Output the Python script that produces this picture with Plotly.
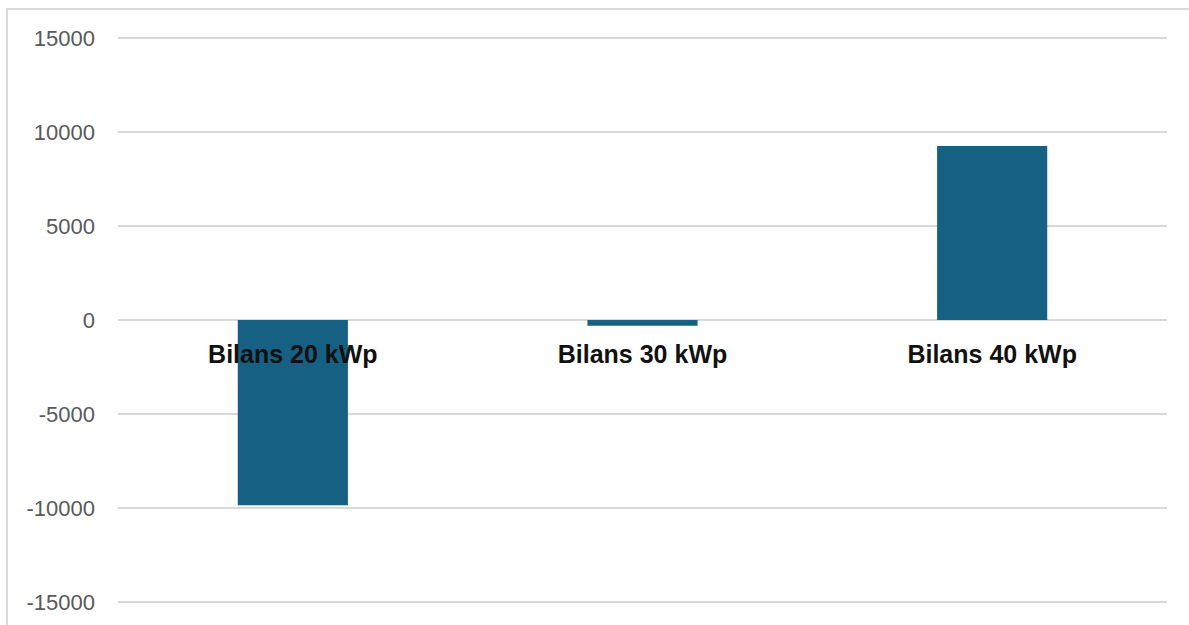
import plotly.graph_objects as go

categories = ["Bilans 20 kWp", "Bilans 30 kWp", "Bilans 40 kWp"]
values = [-9850, -300, 9250]
y_ticks = [-15000, -10000, -5000, 0, 5000, 10000, 15000]
y_tick_labels = ["-15000", "-10000", "-5000", "0", "5000", "10000", "15000"]

fig = go.Figure()
fig.add_trace(go.Bar(
    x=categories, y=values,
    marker=dict(color="#166083", line=dict(width=0)),
))

W, H = 1189, 625
L, R, T, B = 118, 22, 36, 21
pw, ph = W - L - R, H - T - B
pad = 100  # small headroom so edge gridlines are drawn

fig.update_layout(
    width=W, height=H,
    margin=dict(l=L, r=R, t=T, b=B, pad=0),
    plot_bgcolor="white", paper_bgcolor="white",
    bargap=0.685,
    showlegend=False,
    font=dict(family="Liberation Sans, Arial, sans-serif"),
    xaxis=dict(
        anchor="free", position=0.5, automargin=False,
        showgrid=False, showline=False, zeroline=False,
        ticks="", ticklabelstandoff=17,
        tickfont=dict(size=25, color="#111111", family="Liberation Sans, Arial, sans-serif", weight="bold"),
    ),
    yaxis=dict(
        range=[-15000 - pad, 15000 + pad], tickvals=y_ticks, ticktext=y_tick_labels,
        automargin=False,
        showgrid=True, gridcolor="#d9d9d9", gridwidth=2,
        zeroline=True, zerolinecolor="#d9d9d9", zerolinewidth=2,
        showline=False, ticks="", ticklabelstandoff=22,
        tickfont=dict(size=22, color="#595959"),
    ),
)

# outer chart-area border (top and left visible)
fig.add_shape(type="rect", xref="paper", yref="paper",
              x0=(7 - L) / pw, x1=1.2, y0=-0.2, y1=(H - B - 9) / ph,
              line=dict(color="#d9d9d9", width=2), fillcolor="rgba(0,0,0,0)", layer="below")

fig.write_html("out.html")
